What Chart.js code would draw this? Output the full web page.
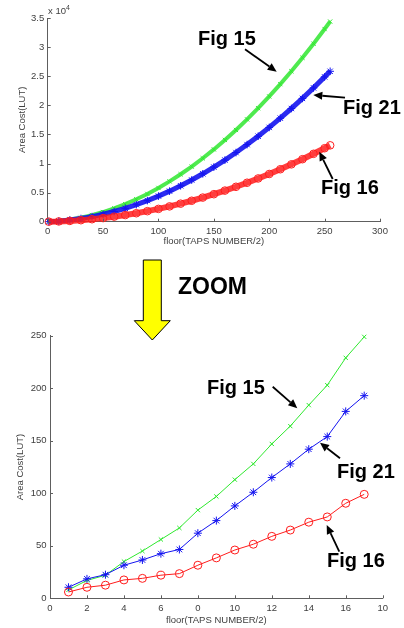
<!DOCTYPE html>
<html><head><meta charset="utf-8">
<script src="https://cdn.jsdelivr.net/npm/chart.js@4/dist/chart.umd.min.js"></script>
<style>
html,body{margin:0;padding:0;background:#fff;width:404px;height:628px;overflow:hidden;font-family:'Liberation Sans',Arial,sans-serif;}
#wrap{position:relative;width:404px;height:628px;}
canvas{position:absolute;left:0;}
.lbl{position:absolute;font-weight:bold;font-size:20px;line-height:20px;color:#000;white-space:nowrap;}
.zoom{position:absolute;font-weight:bold;font-size:23px;line-height:23px;color:#000;white-space:nowrap;}
.exp{position:absolute;font-size:9.5px;line-height:10px;color:#404040;white-space:nowrap;}
.exp sup{font-size:7px;vertical-align:4px;}
svg{position:absolute;left:0;top:0;}
</style></head><body>
<div id="wrap">
<canvas id="topChart" width="404" height="250" style="top:0px;width:404px;height:250px"></canvas>
<canvas id="botChart" width="404" height="308" style="top:320px;width:404px;height:308px"></canvas>
<svg width="404" height="628" viewBox="0 0 404 628" id="ann"></svg>
<div class="exp" style="left:48px;top:3px">x 10<sup>4</sup></div>
<div class="lbl" style="left:198px;top:28px">Fig 15</div>
<div class="lbl" style="left:343px;top:97px">Fig 21</div>
<div class="lbl" style="left:321px;top:177px">Fig 16</div>
<div class="zoom" style="left:178px;top:275px">ZOOM</div>
<div class="lbl" style="left:207px;top:377px">Fig 15</div>
<div class="lbl" style="left:337px;top:461px">Fig 21</div>
<div class="lbl" style="left:327px;top:550px">Fig 16</div>
</div>
<script>
// ---------- data: top chart (full range) ----------
const topX     = [1, 10, 20, 30, 40, 50, 60, 70, 80, 90, 100, 110, 120, 130, 140, 150, 160, 170, 180, 190, 200, 210, 220, 230, 240, 250, 255];
const topFig15 = [8, 113, 365, 700, 1130, 1660, 2290, 3020, 3850, 4770, 5800, 6930, 8150, 9470, 10900, 12420, 14040, 15760, 17580, 19500, 21520, 23640, 25850, 28170, 30590, 33100, 34390];
const topFig21 = [10, 88, 290, 545, 870, 1275, 1750, 2300, 2930, 3630, 4400, 5250, 6170, 7160, 8230, 9380, 10590, 11880, 13250, 14690, 16200, 17790, 19450, 21180, 22990, 24880, 25840];
const topFig16 = [6, 46, 136, 260, 425, 625, 865, 1140, 1455, 1810, 2200, 2630, 3100, 3600, 4145, 4725, 5345, 6000, 6695, 7430, 8200, 9010, 9855, 10740, 11665, 12625, 13120];
const topYTickLabels = ['0', '0.5', '1', '1.5', '2', '2.5', '3', '3.5'];

// ---------- data: bottom chart (zoom) ----------
const botX     = [1, 2, 3, 4, 5, 6, 7, 8, 9, 10, 11, 12, 13, 14, 15, 16, 17];
const botFig15 = [8, 17, 22, 35, 45, 56, 67, 84, 97, 113, 128, 147, 164, 184, 203, 229, 249];
const botFig21 = [10.5, 18.5, 22.5, 31.5, 36.5, 42.5, 46.5, 62, 74, 88, 101, 115, 128, 142, 154, 178, 193];
const botFig16 = [6, 10.5, 12.5, 17.5, 19, 22, 23.5, 31.5, 38.5, 46, 51.5, 59, 65, 72.5, 77.5, 90.5, 99];
const botXTickLabels = ['0', '2', '4', '6', '0', '10', '12', '14', '16', '10'];

const axisTitle = 'Area Cost(LUT)';
const xTitle = 'floor(TAPS NUMBER/2)';

const GREEN = '#2fe82f', BLUE = '#1414f0', RED = '#ff1c1c';
const TEXT = '#404040', AXIS = '#5e5e5e';
const FONT = "'Liberation Sans', Arial, sans-serif";

Chart.defaults.font.family = FONT;
Chart.defaults.font.size = 9.5;
Chart.defaults.color = TEXT;

const pts = (xs, ys) => xs.map((x, i) => ({x, y: ys[i]}));

const inwardTicks = {
  id: 'inwardTicks',
  afterDraw(chart) {
    const {ctx, chartArea, scales} = chart;
    const x = scales.x, y = scales.y;
    ctx.save();
    ctx.strokeStyle = AXIS; ctx.lineWidth = 1;
    x.ticks.forEach(t => {
      const px = Math.round(x.getPixelForValue(t.value)) + 0.5;
      ctx.beginPath(); ctx.moveTo(px, chartArea.bottom); ctx.lineTo(px, chartArea.bottom - 3); ctx.stroke();
    });
    y.ticks.forEach(t => {
      const py = Math.round(y.getPixelForValue(t.value)) + 0.5;
      ctx.beginPath(); ctx.moveTo(chartArea.left, py); ctx.lineTo(chartArea.left + 3, py); ctx.stroke();
    });
    ctx.restore();
  }
};

function makeOptions(cfg) {
  return {
    responsive: false,
    animation: false,
    devicePixelRatio: 1,
    layout: {padding: cfg.padding},
    plugins: {legend: {display: false}, tooltip: {enabled: false}},
    scales: {
      x: {
        type: 'linear', min: cfg.xmin, max: cfg.xmax,
        grid: {display: false, drawTicks: false},
        border: {display: true, color: AXIS, width: 1},
        ticks: {stepSize: cfg.xstep, padding: 4, color: TEXT, maxRotation: 0, autoSkip: false, callback: cfg.xcb},
        title: {display: true, text: xTitle, color: TEXT, font: {size: 9.5}, padding: {top: 0, bottom: cfg.xTitlePad}},
        afterFit: s => { s.height = cfg.xh; }
      },
      y: {
        type: 'linear', min: cfg.ymin, max: cfg.ymax,
        grid: {display: false, drawTicks: false},
        border: {display: true, color: AXIS, width: 1},
        ticks: {stepSize: cfg.ystep, padding: 3.5, color: TEXT, autoSkip: false, callback: cfg.ycb},
        title: {display: true, text: axisTitle, color: TEXT, font: {size: 9.5}, padding: {top: cfg.yTitlePad, bottom: 0}},
        afterFit: s => { s.width = cfg.yw; }
      }
    }
  };
}

new Chart(document.getElementById('topChart'), {
  type: 'scatter',
  data: {
    datasets: [
      {label: 'Fig 16', data: pts(topX, topFig16), showLine: true, borderColor: 'rgba(255,28,28,0.85)', borderWidth: 6,
       pointStyle: 'circle', pointRadius: 3.8, pointBorderColor: RED, pointBackgroundColor: 'rgba(0,0,0,0)', pointBorderWidth: 1, clip: false},
      {label: 'Fig 21', data: pts(topX, topFig21), showLine: true, borderColor: 'rgba(20,20,240,0.9)', borderWidth: 5,
       pointStyle: 'star', pointRadius: 3.8, pointBorderColor: BLUE, pointBorderWidth: 1, clip: false},
      {label: 'Fig 15', data: pts(topX, topFig15), showLine: true, borderColor: 'rgba(60,232,60,0.9)', borderWidth: 4,
       pointStyle: 'crossRot', pointRadius: 3, pointBorderColor: GREEN, pointBorderWidth: 1, clip: false}
    ]
  },
  options: makeOptions({
    padding: {left: 10, right: 24, top: 18, bottom: 2},
    xmin: 0, xmax: 300, xstep: 50, ymin: 0, ymax: 35000, ystep: 5000,
    xcb: v => String(v),
    ycb: v => topYTickLabels[Math.round(v / 5000)],
    xh: 26.3, yw: 37.7, xTitlePad: 0.6, yTitlePad: 6.3
  }),
  plugins: [inwardTicks]
});

new Chart(document.getElementById('botChart'), {
  type: 'scatter',
  data: {
    datasets: [
      {label: 'Fig 16', data: pts(botX, botFig16), showLine: true, borderColor: RED, borderWidth: 1,
       pointStyle: 'circle', pointRadius: 4, pointBorderColor: RED, pointBackgroundColor: 'rgba(0,0,0,0)', pointBorderWidth: 1, clip: false},
      {label: 'Fig 21', data: pts(botX, botFig21), showLine: true, borderColor: BLUE, borderWidth: 1,
       pointStyle: 'star', pointRadius: 4, pointBorderColor: BLUE, pointBorderWidth: 1, clip: false},
      {label: 'Fig 15', data: pts(botX, botFig15), showLine: true, borderColor: GREEN, borderWidth: 1,
       pointStyle: 'crossRot', pointRadius: 3, pointBorderColor: GREEN, pointBorderWidth: 1, clip: false}
    ]
  },
  options: makeOptions({
    padding: {left: 10, right: 21.3, top: 15.8, bottom: 2},
    xmin: 0, xmax: 18, xstep: 2, ymin: 0, ymax: 250, ystep: 50,
    xcb: v => botXTickLabels[Math.round(v / 2)],
    ycb: v => String(v),
    xh: 27.7, yw: 40, xTitlePad: 0.3, yTitlePad: 4.3
  }),
  plugins: [inwardTicks]
});

// ---------- annotation arrows ----------
const arrows = [
  [245, 49.3, 276.7, 71.7],
  [345, 97.7, 313.3, 95],
  [332.7, 179, 319.3, 151.7],
  [272.7, 386.7, 297.3, 408.3],
  [340, 458.3, 320, 442.7],
  [339.3, 551.7, 326.7, 525]
];
const svg = document.getElementById('ann');
let html = '<polygon points="143.3,260 161.3,260 161.3,320.7 170.3,320.7 152.3,340 134.3,320.7 143.3,320.7" fill="#ffff00" stroke="#000" stroke-width="1"/>';
arrows.forEach(([x1, y1, x2, y2]) => {
  const dx = x2 - x1, dy = y2 - y1, L = Math.hypot(dx, dy);
  const ux = dx / L, uy = dy / L, hl = 9, hw = 4;
  const bx = x2 - ux * hl, by = y2 - uy * hl;
  html += `<line x1="${x1}" y1="${y1}" x2="${bx}" y2="${by}" stroke="#000" stroke-width="1.8"/>`;
  html += `<polygon points="${x2},${y2} ${bx - uy * hw},${by + ux * hw} ${bx + uy * hw},${by - ux * hw}" fill="#000"/>`;
});
svg.innerHTML = html;
</script>
</body></html>
